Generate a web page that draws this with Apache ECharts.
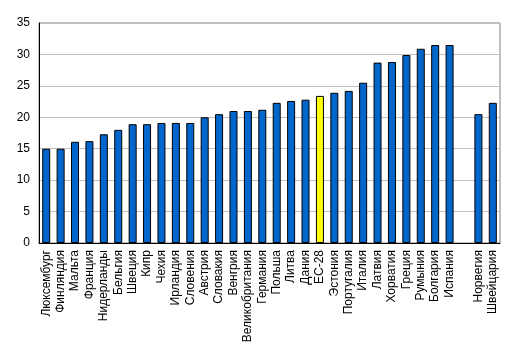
<!DOCTYPE html>
<html>
<head>
<meta charset="utf-8">
<script src="https://cdn.jsdelivr.net/npm/echarts@6/dist/echarts.min.js"></script>
<style>html,body{margin:0;padding:0;background:#fff}#c{width:516px;height:356px}</style>
</head>
<body>
<div id="c"></div>
<script>
const categories = ['Люксембург','Финляндия','Мальта','Франция','Нидерланды','Бельгия','Швеция','Кипр','Чехия','Ирландия','Словения','Австрия','Словакия','Венгрия','Великобритания','Германия','Польша','Литва','Дания','ЕС-28','Эстония','Португалия','Италия','Латвия','Хорватия','Греция','Румыния','Болгария','Испания','','Норвегия','Швейцария'];
const values = [15.0,15.0,16.1,16.2,17.3,18.0,18.9,18.9,19.1,19.1,19.1,20.0,20.5,21.0,21.0,21.2,22.3,22.6,22.8,23.4,23.9,24.2,25.5,28.7,28.8,29.9,30.9,31.5,31.5,null,20.5,22.3];
const highlight = 'ЕС-28';
const yTicks = {min:0,max:35,interval:5};

const chart = echarts.init(document.getElementById('c'));
chart.setOption({
  animation:false,
  grid:{left:39,right:16,top:23,bottom:113,show:true,borderColor:'#808080',borderWidth:1},
  xAxis:{type:'category',data:categories,
    axisLine:{lineStyle:{color:'#000',width:1}},
    axisTick:{show:false},
    axisLabel:{rotate:90,interval:0,color:'#000',fontSize:12,fontFamily:'Liberation Sans, Arial, sans-serif',margin:7}},
  yAxis:{type:'value',min:yTicks.min,max:yTicks.max,interval:yTicks.interval,
    axisLine:{show:true,lineStyle:{color:'#000',width:1}},
    axisTick:{show:false},
    splitLine:{lineStyle:{color:'#c0c0c0',width:1}},
    axisLabel:{color:'#000',fontSize:12,fontFamily:'Liberation Sans, Arial, sans-serif',margin:9}},
  series:[{type:'bar',barWidth:8,
    data:values.map((v,i)=>({value:v,itemStyle:{color:categories[i]===highlight?'#ffff00':'#0066cc'}})),
    itemStyle:{borderColor:'#000',borderWidth:1}}]
});
</script>
</body>
</html>
